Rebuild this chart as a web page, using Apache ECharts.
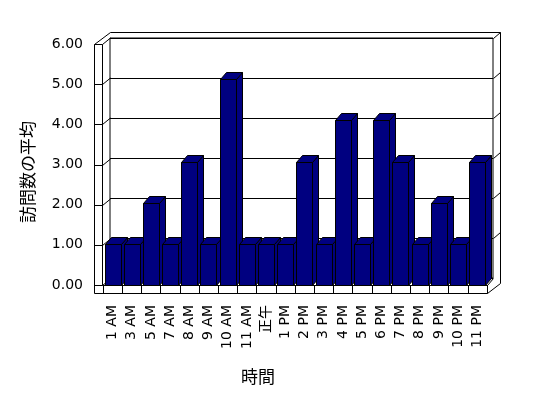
<!DOCTYPE html>
<html lang="ja">
<head>
<meta charset="UTF-8">
<title>訪問数の平均</title>
<style>
  * { margin: 0; padding: 0; }
  html, body { height: 100%; background: #fff; }
  #chart { width: 548px; height: 398px; }
</style>
<script src="https://cdn.jsdelivr.net/npm/echarts@6/dist/echarts.min.js"></script>
</head>
<body>
<div id="chart"></div>
<script>
  // data
  const hours = ['1 AM', '3 AM', '5 AM', '7 AM', '8 AM', '9 AM', '10 AM', '11 AM', '正午', '1 PM',
    '2 PM', '3 PM', '4 PM', '5 PM', '6 PM', '7 PM', '8 PM', '9 PM', '10 PM', '11 PM']
  const visits = [1, 1, 2, 1, 3, 1, 5, 1, 1, 1, 3, 1, 4, 1, 4, 3, 1, 2, 1, 3]
  const yTicks = [0, 1, 2, 3, 4, 5, 6]

  const labelFont = 'DejaVu Sans, Noto Sans CJK JP, sans-serif'
  const cjkFont = 'Noto Sans CJK JP, sans-serif'
  const line = { stroke: '#000', fill: null, lineWidth: 1 }
  const px = n => Math.round(n) + 0.5

  // 3d column: front face, top and right side
  function renderBar(params, api) {
    const i = api.value(0)
    const top = api.coord([i, api.value(1)])
    const base = api.coord([i, 0])
    const band = api.size([1, 0])[0]
    const l = px(top[0] - band / 2 + 1.5)
    const r = l + 16
    const t = px(top[1])
    const b = px(base[1])
    const dx = 6, dy = -7
    const style = { fill: '#000080', stroke: '#000', lineWidth: 1 }
    return {
      type: 'group',
      children: [
        { type: 'polygon', shape: { points: [[r, t], [r + dx, t + dy], [r + dx, b + dy], [r, b]] }, style },
        { type: 'polygon', shape: { points: [[l, t], [r, t], [r + dx, t + dy], [l + dx, t + dy]] }, style },
        { type: 'rect', shape: { x: l, y: t, width: r - l, height: b - t }, style }
      ]
    }
  }

  // tick lines across the left wall
  function renderLeftTick(params, api) {
    const a = api.coord([0, api.value(1)])
    const b = api.coord([1, api.value(1)])
    const y = px(a[1])
    return {
      type: 'polyline',
      shape: { points: [[px(a[0]), y], [px(b[0]), y], [px(b[0]) + 8, y - 6.5]] },
      style: line
    }
  }

  // grid lines bending round the right edge of the back wall
  function renderRightTick(params, api) {
    const a = api.coord([1, api.value(1)])
    const y = px(a[1])
    return {
      type: 'line',
      shape: { x1: px(a[0]), y1: y, x2: px(a[0]) + 7, y2: y - 6 },
      style: line
    }
  }

  const chart = echarts.init(document.getElementById('chart'))
  chart.setOption({
    animation: false,
    backgroundColor: '#fff',
    grid: [
      { left: 103, right: 61, top: 38, bottom: 113 },
      { left: 94, right: 446, top: 44, bottom: 113 },
      { left: 110, right: 55, top: 38, bottom: 120, show: true, borderColor: '#000', borderWidth: 1, backgroundColor: 'transparent' }
    ],
    xAxis: [
      {
        gridIndex: 0,
        type: 'category',
        data: hours,
        boundaryGap: true,
        axisLine: { lineStyle: { color: '#000', width: 1 } },
        axisTick: { show: true, length: 8, lineStyle: { color: '#000' } },
        axisLabel: { interval: 0, rotate: 90, margin: 20, color: '#000', fontSize: 14, fontFamily: labelFont },
        splitLine: { show: false }
      },
      { gridIndex: 1, type: 'value', min: 0, max: 1, show: false },
      { gridIndex: 2, type: 'value', min: 0, max: 1, show: false }
    ],
    yAxis: [
      { gridIndex: 0, type: 'value', min: 0, max: 6, interval: 1, show: false },
      {
        gridIndex: 1,
        type: 'value',
        min: 0,
        max: 6,
        interval: 1,
        axisLine: { show: false },
        axisTick: { show: false },
        splitLine: { show: false },
        axisLabel: { margin: 11, color: '#000', fontSize: 14, fontFamily: labelFont, formatter: v => v.toFixed(2) }
      },
      {
        gridIndex: 2,
        type: 'value',
        min: 0,
        max: 6,
        interval: 1,
        axisLine: { show: false },
        axisTick: { show: false },
        axisLabel: { show: false },
        splitLine: { show: true, lineStyle: { color: '#000', width: 1 } }
      }
    ],
    series: [
      {
        type: 'custom',
        xAxisIndex: 2,
        yAxisIndex: 2,
        renderItem: renderRightTick,
        data: yTicks.filter(v => v > 0).map(v => [1, v]),
        silent: true,
        z: 1
      },
      {
        type: 'custom',
        xAxisIndex: 1,
        yAxisIndex: 1,
        renderItem: renderLeftTick,
        data: yTicks.map(v => [0, v]),
        silent: true,
        z: 1
      },
      {
        type: 'custom',
        xAxisIndex: 0,
        yAxisIndex: 0,
        renderItem: renderBar,
        data: visits.map((v, i) => [i, v]),
        z: 3
      }
    ],
    graphic: [
      // walls and floor outline
      { type: 'polyline', z: 1, shape: { points: [[94.5, 44.5], [94.5, 293.5], [487.5, 293.5], [487.5, 285.5]] }, style: line },
      { type: 'line', z: 1, shape: { x1: 102.5, y1: 44.5, x2: 102.5, y2: 285.5 }, style: line },
      { type: 'polyline', z: 1, shape: { points: [[94.5, 44.5], [110.5, 32.5], [500.5, 32.5], [500.5, 283.5], [487.5, 293.5]] }, style: line },
      { type: 'line', z: 1, shape: { x1: 487.5, y1: 285.5, x2: 493.5, y2: 278.5 }, style: line },
      // axis titles
      {
        type: 'text', x: 28, y: 172, rotation: Math.PI / 2,
        style: { text: '訪問数の平均', font: '17px ' + cjkFont, fill: '#000', textAlign: 'center', textVerticalAlign: 'middle' }
      },
      {
        type: 'text', x: 258, y: 377,
        style: { text: '時間', font: '17px ' + cjkFont, fill: '#000', textAlign: 'center', textVerticalAlign: 'middle' }
      }
    ]
  })
</script>
</body>
</html>
